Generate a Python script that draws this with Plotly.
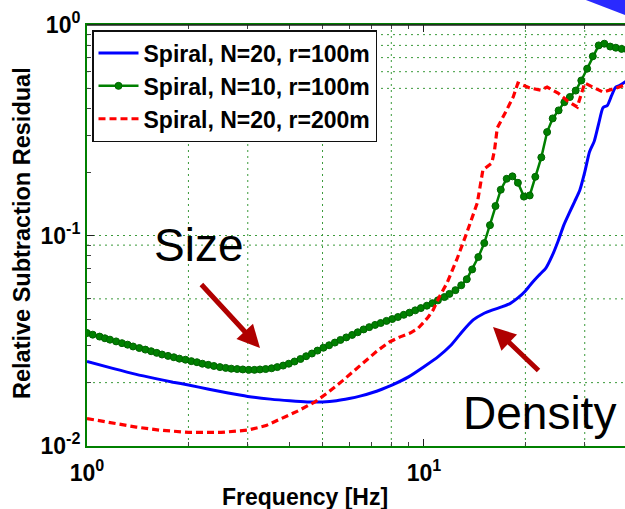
import plotly.graph_objects as go
import math

# ---------------- data ----------------
FREQ_B = [1.0, 1.2, 1.4, 1.6, 1.8, 2.0, 2.3, 2.6, 3.0, 3.5, 4.0, 4.5, 5.0, 5.5, 6.0, 6.5,
          7.0, 7.5, 8.0, 9.0, 10.0, 11.0, 12.0, 13.0, 14.0, 15.0, 16.0, 17.0, 18.0, 19.0,
          20.0, 21.0, 22.0, 23.0, 24.0, 25.0, 26.0, 27.0, 28.0, 29.0, 30.0, 31.0, 32.0,
          33.0, 34.0, 35.0, 36.0, 37.0, 38.0, 39.5, 41.0]
RES_B = [0.0252, 0.0233, 0.0219, 0.0209, 0.0201, 0.0195, 0.0186, 0.0179, 0.0172, 0.0167,
         0.0164, 0.0162, 0.0162, 0.0164, 0.0168, 0.0173, 0.0179, 0.0186, 0.0194, 0.0213,
         0.0238, 0.0265, 0.0300, 0.0350, 0.0397, 0.0425, 0.0443, 0.0458, 0.0475, 0.0505,
         0.0545, 0.0600, 0.0650, 0.0700, 0.0800, 0.0940, 0.112, 0.128, 0.145, 0.164,
         0.200, 0.250, 0.280, 0.340, 0.405, 0.415, 0.460, 0.505, 0.515, 0.536, 0.560]

FREQ_G = [1.00, 1.04, 1.09, 1.13, 1.17, 1.22, 1.27, 1.32, 1.37, 1.43, 1.49, 1.55, 1.61,
          1.67, 1.74, 1.81, 1.88, 1.96, 2.04, 2.12, 2.20, 2.29, 2.38, 2.48, 2.58, 2.68,
          2.79, 2.90, 3.02, 3.14, 3.26, 3.39, 3.53, 3.67, 3.82, 3.97, 4.13, 4.30, 4.47,
          4.65, 4.83, 5.03, 5.23, 5.44, 5.65, 5.88, 6.12, 6.36, 6.62, 6.88, 7.16, 7.44,
          7.74, 8.05, 8.37, 8.71, 9.06, 9.42, 9.79, 10.2, 10.6, 11.0, 11.5, 11.9, 12.4,
          12.9, 13.4, 13.9, 14.5, 15.1, 15.7, 16.3, 16.9, 17.6, 18.3, 19.0, 19.8, 20.6,
          21.4, 22.3, 23.2, 24.1, 25.1, 26.1, 27.1, 28.2, 29.3, 30.5, 31.7, 33.0, 34.3,
          35.7, 37.1, 38.6, 40.1]
RES_G = [0.0344, 0.0338, 0.0331, 0.0325, 0.0320, 0.0314, 0.0308, 0.0303, 0.0297, 0.0292,
         0.0287, 0.0282, 0.0277, 0.0272, 0.0268, 0.0264, 0.0260, 0.0257, 0.0253, 0.0250,
         0.0246, 0.0243, 0.0240, 0.0237, 0.0235, 0.0233, 0.0232, 0.0231, 0.0230, 0.0230,
         0.0231, 0.0232, 0.0234, 0.0237, 0.0241, 0.0246, 0.0252, 0.0259, 0.0267, 0.0275,
         0.0284, 0.0293, 0.0301, 0.0310, 0.0319, 0.0328, 0.0337, 0.0347, 0.0358, 0.0367,
         0.0376, 0.0384, 0.0393, 0.0401, 0.0410, 0.0420, 0.0430, 0.0441, 0.0452, 0.0464,
         0.0477, 0.0492, 0.0510, 0.0528, 0.0550, 0.0580, 0.0620, 0.0690, 0.0790, 0.0920,
         0.112, 0.138, 0.165, 0.186, 0.191, 0.178, 0.153, 0.155, 0.190, 0.235, 0.310,
         0.360, 0.393, 0.430, 0.455, 0.488, 0.545, 0.620, 0.710, 0.800, 0.815, 0.790,
         0.780, 0.770, 0.765]

FREQ_R = [1.0, 1.2, 1.4, 1.64, 2.0, 2.5, 3.0, 3.4, 3.7, 4.2, 4.75, 5.2, 5.75, 6.2, 6.77,
          7.3, 7.9, 8.5, 9.1, 9.6, 9.95, 10.3, 10.65, 11.1, 11.7, 12.5, 13.4, 14.4, 14.96,
          15.9, 16.2, 16.5, 17.6, 18.4, 19.0, 20.6, 22.2, 23.2, 25.0, 26.7, 28.5, 30.0,
          31.7, 34.0, 36.9, 39.5, 41.0]
RES_R = [0.0135, 0.0128, 0.0123, 0.0119, 0.0116, 0.0116, 0.0119, 0.0125, 0.0133, 0.0146,
         0.0162, 0.0180, 0.0205, 0.0228, 0.0257, 0.0285, 0.0312, 0.0330, 0.0344, 0.0362,
         0.0385, 0.0410, 0.0443, 0.0510, 0.0594, 0.0765, 0.103, 0.143, 0.205, 0.221,
         0.255, 0.324, 0.395, 0.455, 0.530, 0.502, 0.490, 0.507, 0.475, 0.435, 0.408,
         0.530, 0.507, 0.480, 0.500, 0.519, 0.520]

SERIES_NAMES = ["Spiral, N=20, r=100m", "Spiral, N=10, r=100m", "Spiral, N=20, r=200m"]

X_TICKS = [1, 10]
X_TICKTEXT = ["10<sup>0</sup>", "10<sup>1</sup>"]
Y_TICKS = [0.01, 0.1, 1]
Y_TICKTEXT = ["10<sup>-2</sup>", "10<sup>-1</sup>", "10<sup>0</sup>"]
X_MINOR = [2, 3, 4, 5, 6, 7, 8, 9, 20, 30, 40]
Y_MINOR = [0.02, 0.03, 0.04, 0.05, 0.06, 0.07, 0.08, 0.09, 0.2, 0.3, 0.4, 0.5, 0.6, 0.7, 0.8, 0.9]
GRID_X = [2, 3, 5, 8, 20, 30]
GRID_Y = [0.02, 0.05, 0.09, 0.1, 0.5, 0.6, 0.7, 0.8, 0.9]

X_RANGE = [1.0, 39.5]
Y_RANGE = [0.01, 1.0]

# ---------------- figure ----------------
FONT = "Liberation Sans, Arial, sans-serif"
GREEN = "#008000"
ARROW = "#b00000"

fig = go.Figure()
fig.add_trace(go.Scatter(x=FREQ_B, y=RES_B, mode="lines", name=SERIES_NAMES[0],
                         line=dict(color="#0000ff", width=3, shape="spline", smoothing=0.6)))
fig.add_trace(go.Scatter(x=FREQ_G, y=RES_G, mode="lines+markers", name=SERIES_NAMES[1],
                         line=dict(color=GREEN, width=2.5),
                         marker=dict(symbol="circle", size=7, color=GREEN,
                                     line=dict(color="#006400", width=1))))
fig.add_trace(go.Scatter(x=FREQ_R, y=RES_R, mode="lines", name=SERIES_NAMES[2],
                         line=dict(color="#ff0000", width=3.2, dash="7px,4px")))

shapes = []
for gx in GRID_X:
    shapes.append(dict(type="line", xref="x", yref="paper", x0=gx, x1=gx, y0=0, y1=1,
                       layer="below", line=dict(color="#3a9a3a", width=1, dash="2px,4px")))
for gy in GRID_Y:
    shapes.append(dict(type="line", xref="paper", yref="y", x0=0, x1=1, y0=gy, y1=gy,
                       layer="below", line=dict(color="#3a9a3a", width=1, dash="2px,4px")))
# black top frame line
shapes.append(dict(type="line", xref="paper", yref="paper", x0=0, x1=1, y0=1, y1=1,
                   line=dict(color="#202020", width=1.5)))
# blue decoration in the top-right corner
shapes.append(dict(type="path", xref="paper", yref="paper",
                   path="M 0.922 1.062 L 1.0 1.0238 L 1.0 1.062 Z",
                   fillcolor="#2a2aff", line=dict(width=0)))

annotations = [
    dict(text="Size", xref="paper", yref="paper", x=(198 - 87) / 538, y=(446 - 245) / 421,
         xanchor="center", yanchor="middle", showarrow=False,
         font=dict(family=FONT, size=46, color="black")),
    dict(text="Density", xref="paper", yref="paper", x=(539 - 87) / 538, y=(446 - 413) / 421,
         xanchor="center", yanchor="middle", showarrow=False,
         font=dict(family=FONT, size=46, color="black")),
    dict(text="", xref="paper", yref="paper", x=(260 - 87) / 538, y=(446 - 348) / 421,
         ax=-60, ay=-65, showarrow=True, arrowhead=2, arrowsize=0.9, arrowwidth=5,
         arrowcolor=ARROW),
    dict(text="", xref="paper", yref="paper", x=(493 - 87) / 538, y=(446 - 327) / 421,
         ax=47, ay=45, showarrow=True, arrowhead=2, arrowsize=0.9, arrowwidth=5,
         arrowcolor=ARROW),
    dict(text="<b>Frequency [Hz]</b>", xref="paper", yref="paper", x=(305 - 87) / 538,
         y=(446 - 497) / 421, xanchor="center", yanchor="middle", showarrow=False,
         font=dict(family=FONT, size=23, color="black")),
    dict(text="<b>Relative Subtraction Residual</b>", xref="paper", yref="paper",
         x=(22 - 87) / 538, y=(446 - 233) / 421, xanchor="center", yanchor="middle",
         textangle=-90, showarrow=False, font=dict(family=FONT, size=23.5, color="black")),
]

fig.update_layout(
    width=625, height=509,
    margin=dict(l=87, r=0, t=25, b=63),
    paper_bgcolor="white", plot_bgcolor="white",
    font=dict(family=FONT, size=23, color="black"),
    showlegend=True,
    legend=dict(x=(92 - 87) / 538, y=(446 - 30) / 421, xanchor="left", yanchor="top",
                bgcolor="white", bordercolor="#101010", borderwidth=1.5,
                font=dict(family=FONT, size=23, color="black", weight="bold"),
                itemwidth=40, tracegroupgap=0),
    shapes=shapes,
    annotations=annotations,
)

fig.update_xaxes(type="log", range=[math.log10(X_RANGE[0]), math.log10(X_RANGE[1])],
                 tickvals=X_TICKS, ticktext=X_TICKTEXT, ticks="inside", ticklen=7,
                 tickcolor="#202020", tickwidth=1.2, showgrid=False, zeroline=False,
                 showline=True, linecolor=GREEN, linewidth=2, mirror="ticks",
                 ticklabelstandoff=5,
                 tickfont=dict(family=FONT, size=23, color="black", weight="bold"),
                 minor=dict(tickvals=X_MINOR, ticks="inside", ticklen=4,
                            tickcolor="#404040", showgrid=False))
fig.update_yaxes(type="log", range=[math.log10(Y_RANGE[0]), math.log10(Y_RANGE[1])],
                 tickvals=Y_TICKS, ticktext=Y_TICKTEXT, ticks="inside", ticklen=7,
                 tickcolor="#202020", tickwidth=1.2, showgrid=False, zeroline=False,
                 showline=True, linecolor=GREEN, linewidth=2,
                 tickfont=dict(family=FONT, size=23, color="black", weight="bold"),
                 minor=dict(tickvals=Y_MINOR, ticks="inside", ticklen=4,
                            tickcolor="#404040", showgrid=False))

fig.write_html("out.html")
